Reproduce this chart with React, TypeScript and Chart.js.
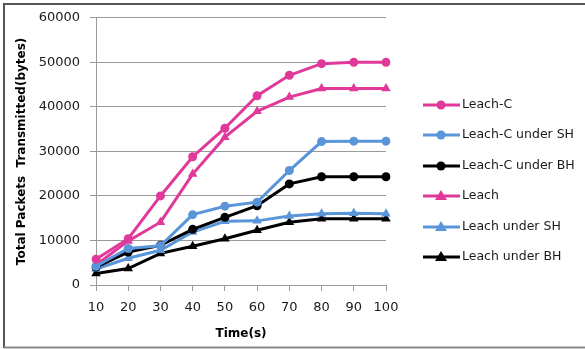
import React, { useEffect, useRef } from 'react';
import { Chart, registerables } from 'chart.js';

Chart.register(...registerables);

const timeLabels = ['10', '20', '30', '40', '50', '60', '70', '80', '90', '100'];
const leachC = [5800, 10400, 20000, 28800, 35200, 42500, 47100, 49700, 50000, 50000];
const leachCUnderSH = [4200, 8200, 8800, 15800, 17700, 18600, 25700, 32200, 32300, 32300];
const leachCUnderBH = [4000, 7400, 8900, 12500, 15200, 17800, 22700, 24300, 24300, 24300];
const leach = [4500, 9900, 14100, 24900, 33200, 39000, 42200, 44100, 44100, 44100];
const leachUnderSH = [3600, 6000, 7800, 11900, 14300, 14400, 15500, 16000, 16100, 16000];
const leachUnderBH = [2600, 3700, 7100, 8700, 10400, 12300, 14100, 14900, 14900, 14900];
const seriesNames = ['Leach-C', 'Leach-C under SH', 'Leach-C under BH', 'Leach', 'Leach under SH', 'Leach under BH'];

const PINK = '#E0399A';
const BLUE = '#5A95DA';
const BLACK = '#000000';
const FONT = "'DejaVu Sans', sans-serif";

const framePlugin = {
  id: 'frame',
  beforeDraw(chart: any) {
    const ctx = chart.ctx;
    ctx.save();
    ctx.fillStyle = '#ffffff';
    ctx.fillRect(0, 0, chart.width, chart.height);
    ctx.strokeStyle = '#555555';
    ctx.lineWidth = 2;
    ctx.beginPath();
    ctx.moveTo(585, 4);
    ctx.lineTo(4, 4);
    ctx.lineTo(4, 348);
    ctx.stroke();
    ctx.strokeStyle = '#888888';
    ctx.beginPath();
    ctx.moveTo(4, 347.5);
    ctx.lineTo(585, 347.5);
    ctx.stroke();
    ctx.restore();
  },
};

const legendPlugin = {
  id: 'customLegend',
  afterDraw(chart: any) {
    const ctx = chart.ctx;
    const rows = [105, 135, 166, 196, 227, 257];
    ctx.save();
    chart.data.datasets.forEach((ds: any, i: number) => {
      const y = rows[i];
      ctx.strokeStyle = ds.borderColor;
      ctx.lineWidth = 3;
      ctx.beginPath();
      ctx.moveTo(423, y);
      ctx.lineTo(460, y);
      ctx.stroke();
      ctx.fillStyle = ds.borderColor;
      ctx.beginPath();
      if (ds.pointStyle === 'triangle') {
        ctx.moveTo(441, y - 6);
        ctx.lineTo(447, y + 4);
        ctx.lineTo(435, y + 4);
        ctx.closePath();
      } else {
        ctx.arc(441, y, 4.5, 0, Math.PI * 2);
      }
      ctx.fill();
      ctx.fillStyle = '#1a1a1a';
      ctx.font = `12.5px ${FONT}`;
      ctx.textBaseline = 'middle';
      ctx.textAlign = 'left';
      ctx.fillText(ds.label, 462, y);
    });
    ctx.restore();
  },
};

export default function App() {
  const ref = useRef<HTMLCanvasElement>(null);
  useEffect(() => {
    if (!ref.current) return;
    const mk = (label: string, data: number[], color: string, style: string) => ({
      label,
      data,
      borderColor: color,
      backgroundColor: color,
      borderWidth: 3,
      pointStyle: style,
      pointRadius: style === 'triangle' ? 5.5 : 4.5,
      pointBorderWidth: 0,
      pointBackgroundColor: color,
      tension: 0,
    });
    const chart = new Chart(ref.current, {
      type: 'line',
      data: {
        labels: timeLabels,
        datasets: [
          mk(seriesNames[0], leachC, PINK, 'circle'),
          mk(seriesNames[1], leachCUnderSH, BLUE, 'circle'),
          mk(seriesNames[2], leachCUnderBH, BLACK, 'circle'),
          mk(seriesNames[3], leach, PINK, 'triangle'),
          mk(seriesNames[4], leachUnderSH, BLUE, 'triangle'),
          mk(seriesNames[5], leachUnderBH, BLACK, 'triangle'),
        ],
      },
      options: {
        responsive: false,
        animation: false,
        devicePixelRatio: 1,
        layout: { padding: { left: 0, top: 16, right: 199, bottom: 0 } },
        plugins: { legend: { display: false }, tooltip: { enabled: false } },
        scales: {
          x: {
            type: 'category',
            offset: false,
            grid: {
              display: true,
              drawOnChartArea: false,
              drawTicks: true,
              tickLength: 6,
              color: '#9a9a9a',
              offset: false,
            },
            border: { display: true, color: '#9a9a9a', width: 1 },
            ticks: { color: '#1a1a1a', font: { family: FONT, size: 13 }, padding: 9, maxRotation: 0, autoSkip: false },
            title: {
              display: true,
              text: 'Time(s)',
              color: '#000',
              font: { family: FONT, size: 12, weight: 'bold' },
              padding: { top: 0, bottom: 8 },
            },
            afterFit(scale: any) {
              scale.height = 64;
            },
          },
          y: {
            min: 0,
            max: 60000,
            ticks: {
              stepSize: 10000,
              color: '#1a1a1a',
              font: { family: FONT, size: 13 },
              padding: 10,
              callback: (v: any) => String(v),
            },
            grid: { color: '#9a9a9a', tickLength: 6, drawTicks: true },
            border: { display: true, color: '#9a9a9a', width: 1 },
            title: {
              display: true,
              text: 'Total Packets  Transmitted(bytes)',
              color: '#000',
              font: { family: FONT, size: 12, weight: 'bold' },
              padding: { top: 15, bottom: 0 },
            },
            afterFit(scale: any) {
              scale.width = 96;
            },
          },
        },
      },
      plugins: [framePlugin, legendPlugin],
    } as any);
    return () => chart.destroy();
  }, []);
  return (
    <div style={{ position: 'absolute', left: 0, top: 0, width: 585, height: 349 }}>
      <canvas ref={ref} width={585} height={349} />
    </div>
  );
}
